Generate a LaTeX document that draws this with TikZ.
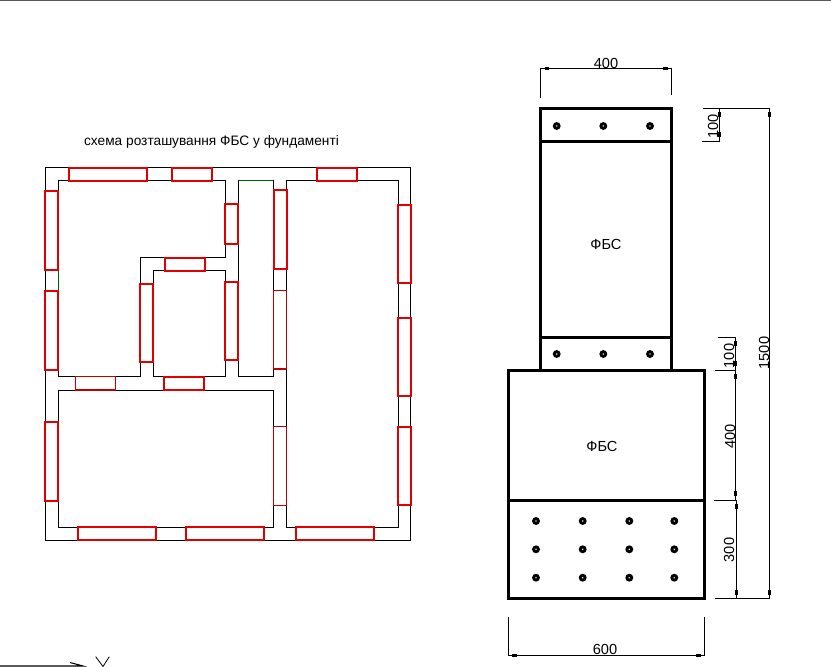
\documentclass[tikz,border=0pt]{standalone}
\usepackage{fontspec}
\setmainfont{Liberation Sans}
\usetikzlibrary{positioning,arrows.meta}

\begin{document}
\begin{tikzpicture}[
  x=1pt, y=-1pt,
  wall/.style={draw=black, line width=1.1pt},
  wallgreen/.style={draw=black!45!green!70!black, line width=1.1pt},
  fbs/.style={draw=red!88!black, line width=2pt},
  fbsthin/.style={draw=red!75!black, line width=1.2pt},
  block/.style={draw=black, line width=3pt},
  hole/.style={draw=black, line width=2.9pt},
  dim/.style={draw=black, line width=0.95pt},
  dimtick/.style={draw=black, line width=3pt},
  lbl/.style={inner sep=0pt, font=\fontsize{14.6}{16}\selectfont},
  title/.style={inner sep=0pt, font=\fontsize{13.7}{15}\selectfont}
]
\useasboundingbox (0,0) rectangle (831,667);
\draw[draw=black!65, line width=1.6pt] (0,0.4) -- (831,0.4);

% walls
\draw[wall] (45.5,167.5) rectangle (410.7,540.5);
\draw[wall] (58.5,180.5) -- (225.7,180.5) -- (225.7,257.3) -- (140.3,257.3)
  -- (140.3,376.3) -- (58.5,376.3) -- cycle;
\draw[wall] (153.3,270.3) rectangle (225.7,376.3);
\draw[wall] (238.7,180.5) rectangle (273.4,376.3);
\draw[wall] (286.3,180.5) rectangle (398.3,527.3);
\draw[wall] (58.5,390.3) rectangle (273.4,527.3);
\draw[wallgreen] (238.7,180.5) -- (273.4,180.5);
\draw[wallgreen] (58.5,270) -- (58.5,290.7);

% blocks on plan
\foreach \xa/\ya/\xb/\yb in {
  68.7/167.5/147.3/181, 171.7/167.5/212.3/181, 316.7/167.5/357.3/181,
  44.9/191.3/58/270, 44.9/290.7/58/370, 44.9/422.3/58/501,
  225/203.7/238/244, 164.7/257.7/205.3/271, 140/283.7/153/362,
  225/281.7/238/360, 274/190.3/287.3/269,
  397.7/204.7/411.3/283.3, 397.7/317.7/411.3/396.3, 397.7/426.7/411.3/505.3,
  77.7/526.7/156.3/540, 185.7/526.7/264.3/540, 295.7/526.7/374.3/540,
  163.7/376.7/204.3/390}
  \draw[fbs] (\xa,\ya) rectangle (\xb,\yb);
\foreach \xa/\ya/\xb/\yb in {
  273.3/290.3/286.3/369, 273.7/426.7/286.7/505.3, 75.3/376.7/115.7/390}
  \draw[fbsthin] (\xa,\ya) rectangle (\xb,\yb);

\node[title] (plantitle) at (211.5,142) {схема розташування ФБС у фундаменті};

% section
\draw[block] (540.5,108) rectangle (671.5,370);
\draw[block] (540.5,141) -- (671.5,141);
\draw[block] (540.5,337.3) -- (671.5,337.3);
\draw[block] (508.5,370) rectangle (704.5,598.3);
\draw[block] (508.5,500.3) -- (704.5,500.3);
\node[lbl] (fbstop) at (606,244) {ФБС};
\node[lbl] (fbsbot) at (602,446) {ФБС};

% holes
\foreach \x in {556.7,603.3,650} {
  \draw[hole] (\x,126) circle (2.4);
  \draw[hole] (\x,354) circle (2.4);
}
\foreach \x in {536,582.7,629.3,674.3}
  \foreach \y in {521,549.3,577.7}
    \draw[hole] (\x,\y) circle (2.4);

% dimensions
\draw[dim] (540.7,98) -- (540.7,68.3) -- (671.3,68.3) -- (671.3,95);
\draw[dimtick] (544.5,68.3) -- (549,68.3);
\draw[dimtick] (663,68.3) -- (667.5,68.3);
\node[lbl] (dimtop) at (606,63) {400};

\draw[dim] (508.3,617) -- (508.3,655.3) -- (704.7,655.3) -- (704.7,617);
\draw[dimtick] (512,655.3) -- (516.5,655.3);
\draw[dimtick] (696,655.3) -- (700.5,655.3);
\node[lbl] (dimbot) at (605,649) {600};

\draw[dim] (702.7,108.3) -- (769.3,108.3) -- (769.3,598.3) -- (715,598.3);
\draw[dim] (701.7,141) -- (719.3,141) -- (719.3,108.3);
\draw[dimtick] (719.3,112) -- (719.3,116.5);
\draw[dimtick] (719.3,132) -- (719.3,136.5);
\draw[dimtick] (769.3,112) -- (769.3,116.5);
\draw[dimtick] (769.3,590) -- (769.3,594.5);
\node[lbl, rotate=90] (dimhigh) at (713,126.7) {100};
\node[lbl, rotate=90] (dimall) at (764,353) {1500};

\draw[dim] (718,337.3) -- (735.7,337.3) -- (735.7,500.3);
\draw[dim] (715,370) -- (735.7,370);
\draw[dim] (714,500.3) -- (736.7,500.3) -- (736.7,598.3);
\draw[dimtick] (735.7,341) -- (735.7,345.5);
\draw[dimtick] (735.7,361) -- (735.7,365.5);
\draw[dimtick] (735.7,374) -- (735.7,378.5);
\draw[dimtick] (735.7,491) -- (735.7,495.5);
\draw[dimtick] (736.7,504) -- (736.7,508.5);
\draw[dimtick] (736.7,590) -- (736.7,594.5);
\node[lbl, rotate=90] (dimlow) at (729,356) {100};
\node[lbl, rotate=90] (dimfbs) at (730,436.7) {400};
\node[lbl, rotate=90] (dimbase) at (729,550) {300};

% corner axes
\draw[wall] (0,666) -- (83,666) -- (70,662.5);
\draw[draw=black, line width=0.8pt] (95.7,656.7) -- (103,666.5) -- (109.3,656.7);
\end{tikzpicture}
\end{document}
